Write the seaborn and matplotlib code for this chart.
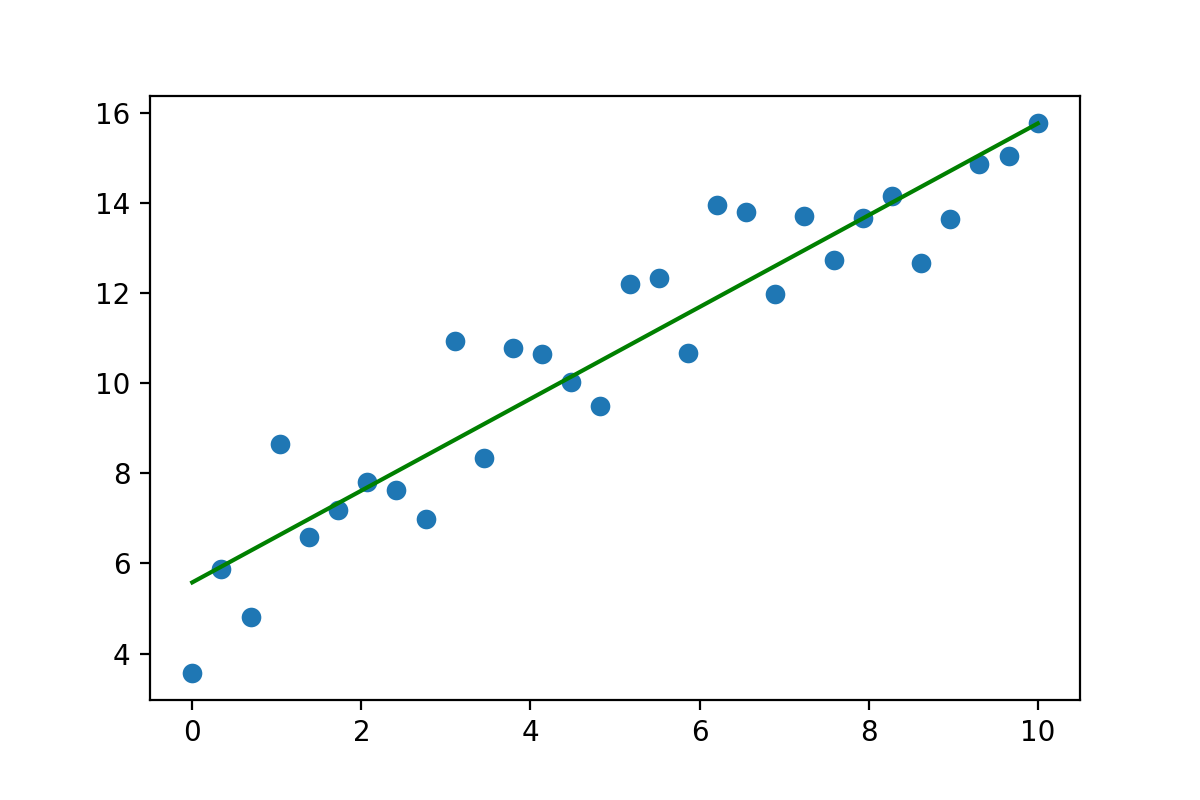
import numpy as np
import pandas as pd
import matplotlib
matplotlib.use("Agg")
import matplotlib.pyplot as plt
import seaborn as sns

x_values = [0.0, 0.345, 0.690, 1.034, 1.379, 1.724, 2.069, 2.414, 2.759, 3.103,
            3.448, 3.793, 4.138, 4.483, 4.828, 5.172, 5.517, 5.862, 6.207, 6.552,
            6.897, 7.241, 7.586, 7.931, 8.276, 8.621, 8.966, 9.310, 9.655, 10.0]
y_values = [3.58, 5.87, 4.82, 8.64, 6.58, 7.18, 7.80, 7.64, 6.98, 10.93,
            8.33, 10.78, 10.64, 10.02, 9.49, 12.20, 12.33, 10.67, 13.96, 13.80,
            11.98, 13.71, 12.73, 13.67, 14.16, 12.67, 13.64, 14.87, 15.04, 15.76]
fit_x = [0.0, 10.0]
fit_y = [5.58, 15.76]

df = pd.DataFrame({"x": x_values, "y": y_values})
fit_df = pd.DataFrame({"x": fit_x, "y": fit_y})

fig, ax = plt.subplots(figsize=(6, 4), dpi=200)
fig.subplots_adjust(left=0.125, right=0.9, bottom=0.125, top=0.88)
sns.scatterplot(data=df, x="x", y="y", ax=ax, color="#1f77b4", s=50, linewidth=0)
sns.lineplot(data=fit_df, x="x", y="y", ax=ax, color="green", linewidth=1.5)
ax.set_xlabel("")
ax.set_ylabel("")
ax.set_yticks([4, 6, 8, 10, 12, 14, 16])
fig.savefig("out.png", dpi=200)
